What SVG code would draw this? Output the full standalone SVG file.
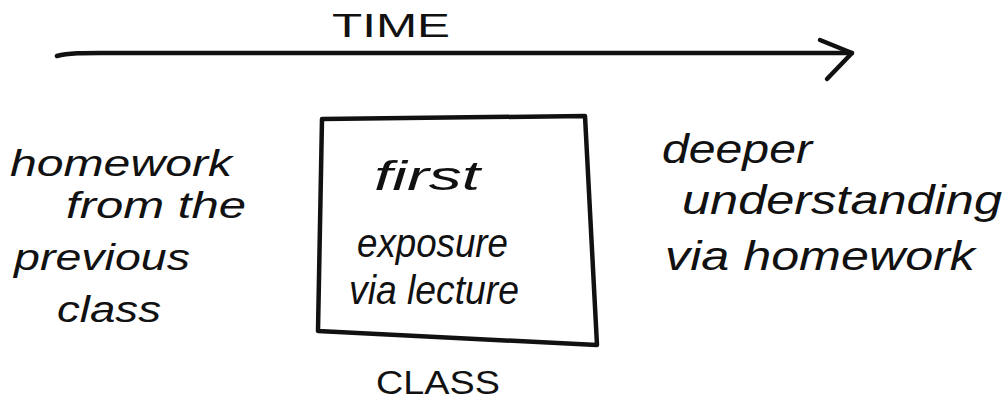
<svg xmlns="http://www.w3.org/2000/svg" width="1006" height="400" viewBox="0 0 1006 400">
<style>
.hand{font-family:"Liberation Sans","DejaVu Sans",sans-serif;font-style:italic;fill:#111}
.l{font-size:36px}
.m{font-size:40px}
.caps{font-family:"Liberation Sans","DejaVu Sans",sans-serif;font-size:33px;fill:#111}
.ink{fill:none;stroke:#111;stroke-width:4.5;stroke-linecap:round;stroke-linejoin:round}
</style>
<rect width="1006" height="400" fill="#fff"/>
<g id="connectors">
<path class="ink" d="M57,56 C70,52 90,53 130,53 L500,53 L852,53"/>
<path class="ink" d="M820,40 L852,53 L827,79"/>
</g>
<g id="time-label">
<text class="caps" x="332" y="37" textLength="118" lengthAdjust="spacingAndGlyphs">TIME</text>
</g>
<g id="before">
<text class="hand l" x="10" y="176" textLength="222" lengthAdjust="spacingAndGlyphs">homework</text>
<text class="hand l" x="66" y="218" textLength="180" lengthAdjust="spacingAndGlyphs">from the</text>
<text class="hand l" x="14" y="270" textLength="176" lengthAdjust="spacingAndGlyphs">previous</text>
<text class="hand l" x="57" y="322" textLength="104" lengthAdjust="spacingAndGlyphs">class</text>
</g>
<g id="class-box">
<path class="ink" d="M322,119 L585,116 L597,345 L318,331 Z"/>
<text class="hand m" x="374" y="190" textLength="106" lengthAdjust="spacingAndGlyphs">first</text>
<text class="hand m" x="357" y="257" textLength="151" lengthAdjust="spacingAndGlyphs">exposure</text>
<text class="hand m" x="349" y="304" textLength="170" lengthAdjust="spacingAndGlyphs">via lecture</text>
<text class="caps" x="376" y="394" textLength="124" lengthAdjust="spacingAndGlyphs">CLASS</text>
</g>
<g id="after">
<text class="hand m" x="662" y="163" textLength="150" lengthAdjust="spacingAndGlyphs">deeper</text>
<text class="hand m" x="682" y="214" textLength="320" lengthAdjust="spacingAndGlyphs">understanding</text>
<text class="hand m" x="665" y="270" textLength="310" lengthAdjust="spacingAndGlyphs">via homework</text>
</g>
</svg>
